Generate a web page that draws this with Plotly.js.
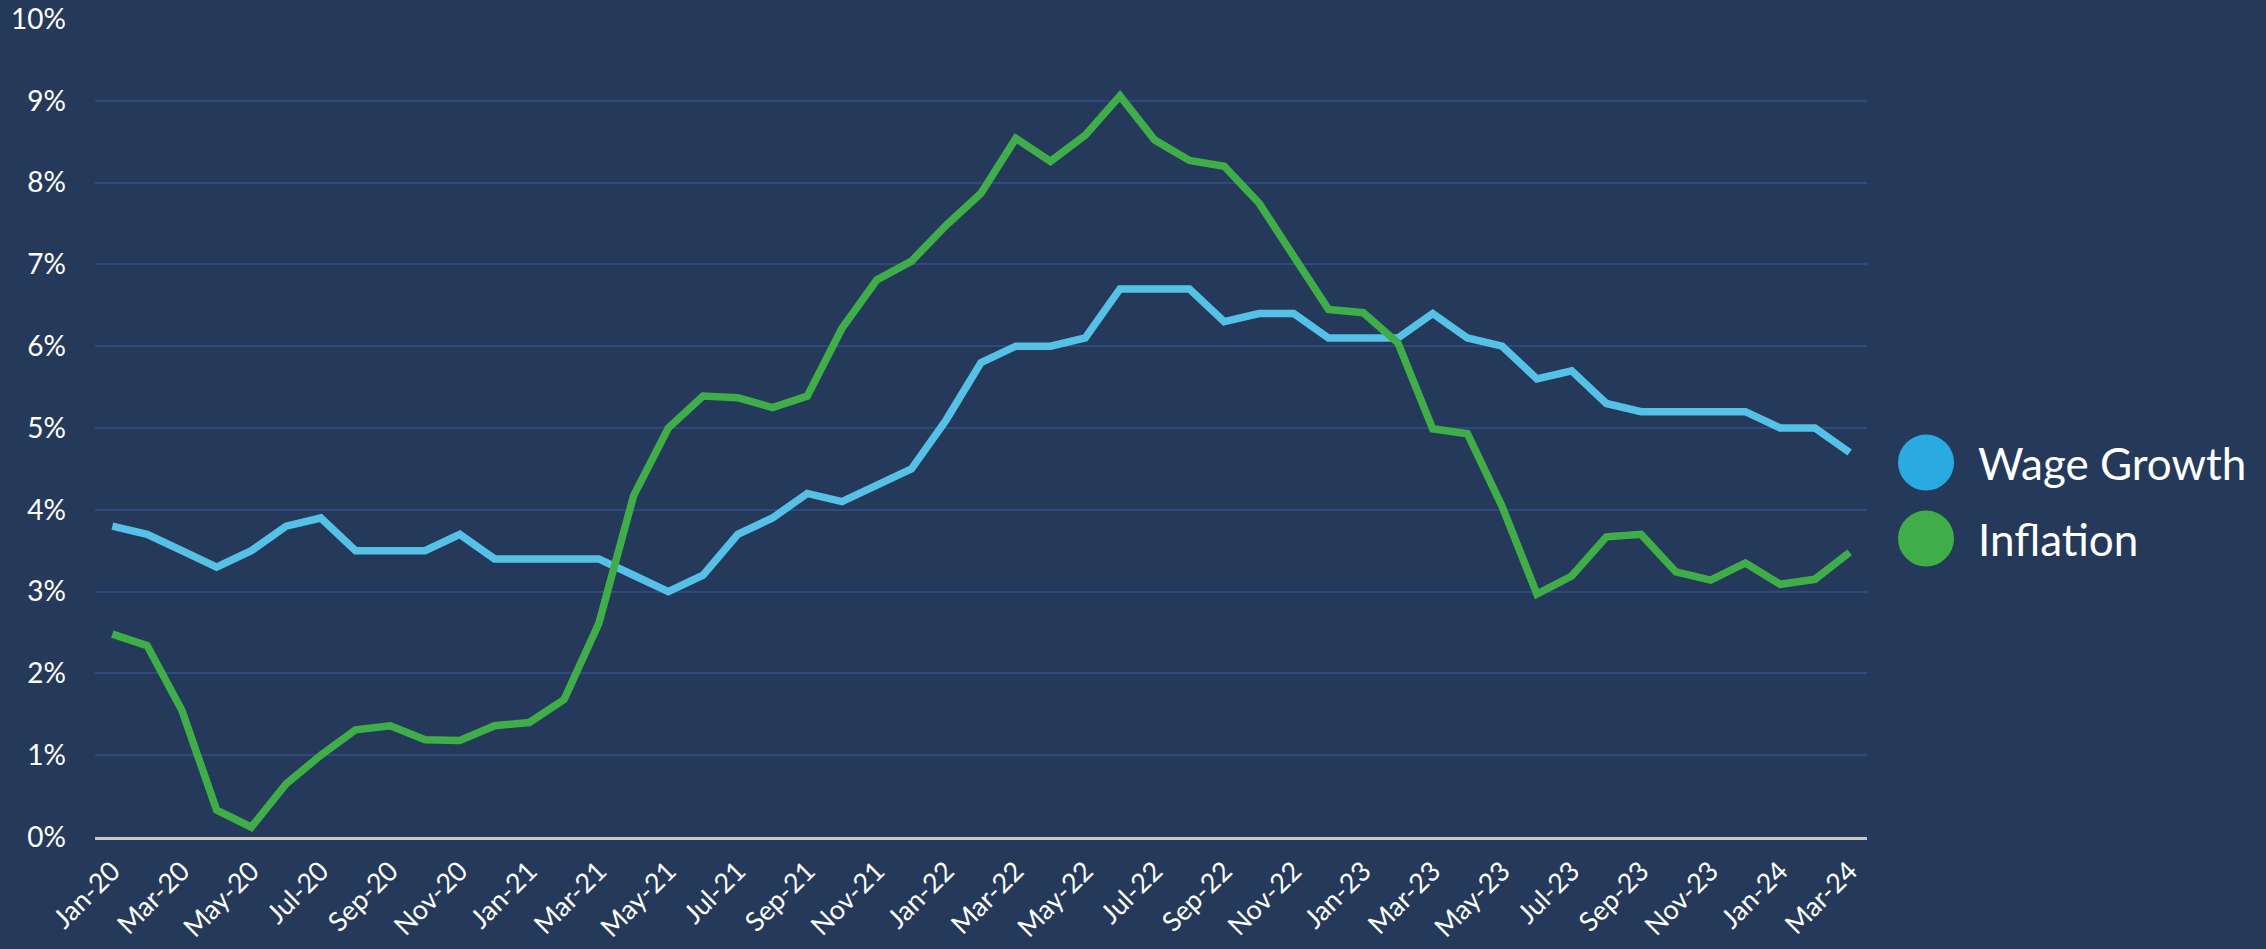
<!DOCTYPE html>
<html>
<head>
<meta charset="utf-8">
<script src="https://cdn.plot.ly/plotly-3.0.1.min.js"></script>
<style>
  html, body { margin: 0; padding: 0; background: #253A5A; }
  #chart { width: 2266px; height: 949px; }
</style>
</head>
<body>
<div id="chart"></div>
<script>
// ---- Data ----
const months = [
  "Jan-20","Feb-20","Mar-20","Apr-20","May-20","Jun-20","Jul-20","Aug-20","Sep-20","Oct-20","Nov-20","Dec-20",
  "Jan-21","Feb-21","Mar-21","Apr-21","May-21","Jun-21","Jul-21","Aug-21","Sep-21","Oct-21","Nov-21","Dec-21",
  "Jan-22","Feb-22","Mar-22","Apr-22","May-22","Jun-22","Jul-22","Aug-22","Sep-22","Oct-22","Nov-22","Dec-22",
  "Jan-23","Feb-23","Mar-23","Apr-23","May-23","Jun-23","Jul-23","Aug-23","Sep-23","Oct-23","Nov-23","Dec-23",
  "Jan-24","Feb-24","Mar-24"
];

const wageGrowth = [
  3.8, 3.7, 3.5, 3.3, 3.5, 3.8, 3.9, 3.5, 3.5, 3.5, 3.7, 3.4,
  3.4, 3.4, 3.4, 3.2, 3.0, 3.2, 3.7, 3.9, 4.2, 4.1, 4.3, 4.5,
  5.1, 5.8, 6.0, 6.0, 6.1, 6.7, 6.7, 6.7, 6.3, 6.4, 6.4, 6.1,
  6.1, 6.1, 6.4, 6.1, 6.0, 5.6, 5.7, 5.3, 5.2, 5.2, 5.2, 5.2,
  5.0, 5.0, 4.7
];

const inflation = [
  2.48, 2.34, 1.55, 0.33, 0.12, 0.65, 1.00, 1.31, 1.36, 1.19, 1.18, 1.36,
  1.40, 1.68, 2.61, 4.17, 5.00, 5.39, 5.37, 5.25, 5.39, 6.22, 6.81, 7.04,
  7.48, 7.87, 8.54, 8.26, 8.58, 9.06, 8.52, 8.27, 8.20, 7.75, 7.10, 6.45,
  6.41, 6.04, 4.99, 4.93, 4.04, 2.97, 3.19, 3.67, 3.70, 3.24, 3.14, 3.35,
  3.09, 3.15, 3.48
];

const seriesNames = ["Wage Growth", "Inflation"];
const tickLabels = months.filter((m, i) => i % 2 === 0);

// ---- Styling ----
const BG = "#253A5A";
const GRID = "#2E4A7E";
const WAGE_LINE = "#56C1E6";
const WAGE_DOT = "#29ABE2";
const INFL = "#3FAE49";
const FONT = "Lato, 'Open Sans', 'DejaVu Sans', sans-serif";

const toFrac = arr => arr.map(v => v / 100);

const traces = [
  {
    type: "scatter", mode: "lines", name: seriesNames[0],
    x: months, y: toFrac(wageGrowth),
    line: { color: WAGE_LINE, width: 7.5 },
    showlegend: false, hoverinfo: "x+y+name"
  },
  {
    type: "scatter", mode: "lines", name: seriesNames[1],
    x: months, y: toFrac(inflation),
    line: { color: INFL, width: 7.5 },
    showlegend: false, hoverinfo: "x+y+name"
  }
];

// legend built from circles + text
const legendX = 1.0333, legendTextX = 1.0615;
const legendY = [0.4578, 0.3649];
const legendColors = [WAGE_DOT, INFL];
const shapes = [];
const annotations = [];
seriesNames.forEach((name, i) => {
  shapes.push({
    type: "circle", xref: "paper", yref: "paper",
    xsizemode: "pixel", ysizemode: "pixel",
    xanchor: legendX, yanchor: legendY[i],
    x0: -28, x1: 28, y0: -28, y1: 28,
    fillcolor: legendColors[i], line: { width: 0 }
  });
  annotations.push({
    xref: "paper", yref: "paper", x: legendTextX, y: legendY[i],
    xanchor: "left", yanchor: "middle", showarrow: false,
    text: name, font: { family: FONT, size: 44, color: "#FFFFFF" }
  });
});

const layout = {
  width: 2266, height: 949,
  paper_bgcolor: BG, plot_bgcolor: BG,
  margin: { l: 95, r: 399, t: 19, b: 112, pad: 0 },
  showlegend: false,
  font: { family: FONT, color: "#FFFFFF", size: 28 },
  xaxis: {
    type: "category",
    range: [-0.5, months.length - 0.5],
    tickmode: "array", tickvals: tickLabels, ticktext: tickLabels,
    tickangle: -45,
    tickfont: { family: FONT, size: 27, color: "#FFFFFF" },
    showgrid: false, zeroline: false,
    showline: true, linecolor: "#C8C8C8", linewidth: 2.5,
    ticks: "", ticklabelstandoff: 5,
    fixedrange: true
  },
  yaxis: {
    range: [0, 0.10],
    tickmode: "linear", tick0: 0, dtick: 0.01,
    tickformat: ".0%",
    tickfont: { family: FONT, size: 28, color: "#FFFFFF" },
    showgrid: true, gridcolor: GRID, gridwidth: 2,
    zeroline: false, showline: false,
    ticks: "", ticklabelstandoff: 28,
    fixedrange: true
  },
  shapes: shapes,
  annotations: annotations
};

Plotly.newPlot("chart", traces, layout, { displayModeBar: false, staticPlot: true });
</script>
</body>
</html>
